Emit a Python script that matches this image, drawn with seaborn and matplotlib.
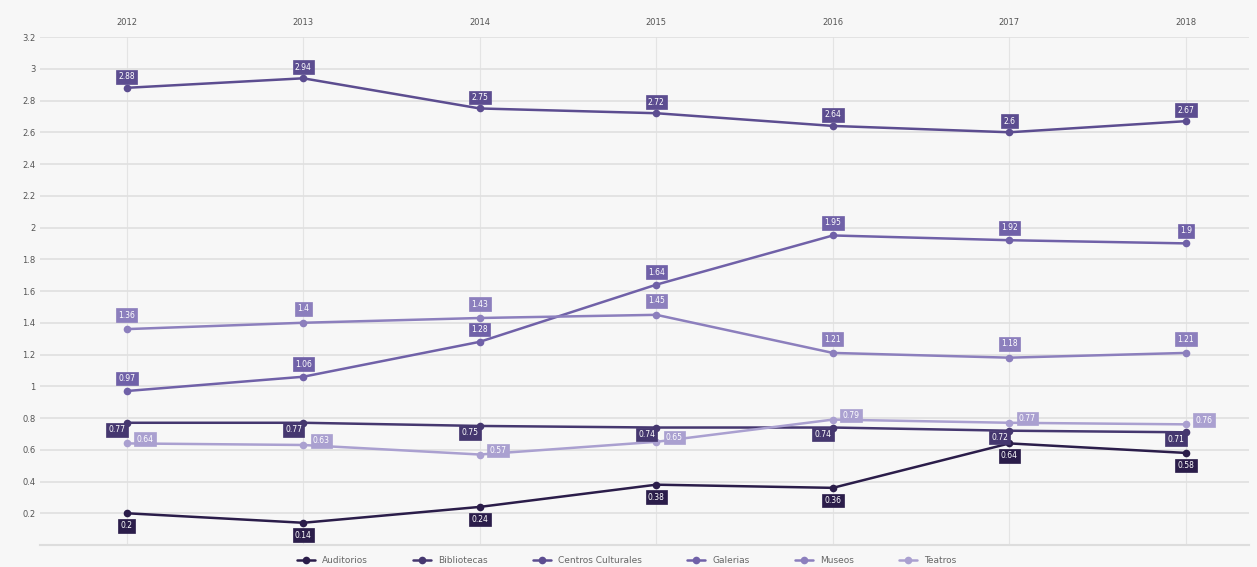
import pandas as pd
import numpy as np
import matplotlib.pyplot as plt
import seaborn as sns

# datos
anios = [2012, 2013, 2014, 2015, 2016, 2017, 2018]
auditorios = [0.20, 0.14, 0.24, 0.38, 0.36, 0.64, 0.58]
bibliotecas = [0.77, 0.77, 0.75, 0.74, 0.74, 0.72, 0.71]
centros_culturales = [2.88, 2.94, 2.75, 2.72, 2.64, 2.60, 2.67]
galerias = [0.97, 1.06, 1.28, 1.64, 1.95, 1.92, 1.90]
museos = [1.36, 1.40, 1.43, 1.45, 1.21, 1.18, 1.21]
teatros = [0.64, 0.63, 0.57, 0.65, 0.79, 0.77, 0.76]

series = {
    "Auditorios": auditorios,
    "Bibliotecas": bibliotecas,
    "Centros Culturales": centros_culturales,
    "Galerias": galerias,
    "Museos": museos,
    "Teatros": teatros,
}
colores = {
    "Auditorios": "#2b1d4a",
    "Bibliotecas": "#45376f",
    "Centros Culturales": "#5c4d90",
    "Galerias": "#7061a8",
    "Museos": "#8c7fbd",
    "Teatros": "#aaa0d0",
}
# desplazamiento de las etiquetas (puntos)
offsets = {
    "Auditorios": (0, -9),
    "Bibliotecas": (-7, -5),
    "Centros Culturales": (0, 8),
    "Galerias": (0, 9),
    "Museos": (0, 10),
    "Teatros": (13, 3),
}

filas = []
for nombre, vals in series.items():
    for a, v in zip(anios, vals):
        filas.append({"anio": a, "valor": v, "serie": nombre})
df = pd.DataFrame(filas)

sns.set_style("white")
fig = plt.figure(figsize=(12.57, 5.67), dpi=100)
fig.patch.set_facecolor("#f7f7f7")
ax = fig.add_axes([0.032, 0.0388, 0.962, 0.8959])
ax.set_facecolor("#f7f7f7")

sns.lineplot(data=df, x="anio", y="valor", hue="serie", palette=colores,
             marker="o", markersize=5.5, markeredgewidth=0, linewidth=1.8,
             ax=ax, legend=True)

for nombre, vals in series.items():
    dx, dy = offsets[nombre]
    for a, v in zip(anios, vals):
        ax.annotate(f"{v:g}", (a, v), xytext=(dx, dy), textcoords="offset points",
                    ha="center", va="center", fontsize=5.5, color="white",
                    bbox=dict(boxstyle="square,pad=0.3", fc=colores[nombre],
                              ec=colores[nombre], lw=0.5))

ax.set_xlim(2011.51, 2018.36)
ax.set_ylim(0, 3.2)
ax.set_xticks(anios)
ax.set_yticks(np.arange(0, 3.21, 0.2))
ax.set_yticklabels(["" if abs(t) < 1e-9 else f"{t:g}" for t in np.arange(0, 3.21, 0.2)])
ax.xaxis.tick_top()
ax.tick_params(axis="both", length=0, labelsize=6, colors="#555555")
ax.tick_params(axis="x", pad=7)
ax.grid(axis="y", color="#e0e0e0", linewidth=1.2)
ax.grid(axis="x", color="#e4e4e4", linewidth=0.8)
ax.set_xlabel("")
ax.set_ylabel("")
for s in ["top", "right", "left"]:
    ax.spines[s].set_visible(False)
ax.spines["bottom"].set_color("#dddddd")
ax.spines["bottom"].set_linewidth(1.5)

leg = ax.legend(loc="upper center", bbox_to_anchor=(0.485, -0.005), ncol=6,
                frameon=False, fontsize=6.5, handlelength=2, columnspacing=5,
                labelcolor="#666666")

fig.savefig("out.png", dpi=100, facecolor=fig.get_facecolor())
